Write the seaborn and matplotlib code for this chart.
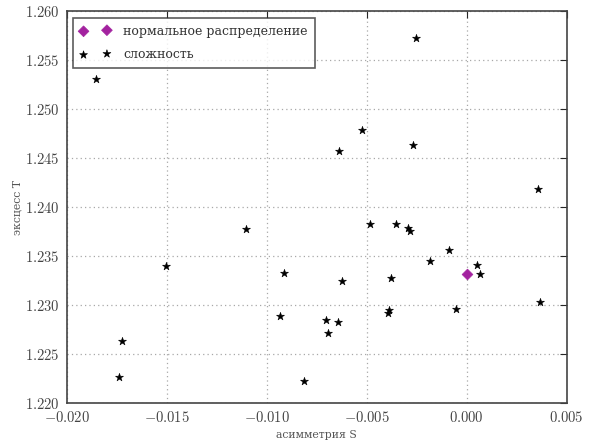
import matplotlib
matplotlib.use("Agg")
import matplotlib.pyplot as plt
import seaborn as sns
import pandas as pd

# data
skew = [-0.01855, -0.00255, -0.00525, -0.0064, -0.0027, 0.00357, -0.01105,
        -0.00482, -0.00353, -0.00292, -0.00282, -0.00088, -0.00183, 0.0005,
        0.00065, -0.01505, -0.00913, -0.00623, -0.00378, -0.01725, -0.0174,
        -0.00935, -0.00703, -0.00695, -0.00642, -0.00813, -0.0039, -0.00393,
        -0.00052, 0.00368]
kurt = [1.2531, 1.2573, 1.2479, 1.2457, 1.2464, 1.2419, 1.2378,
        1.2383, 1.2383, 1.2379, 1.2376, 1.2356, 1.2345, 1.2341,
        1.2332, 1.2340, 1.2333, 1.2325, 1.2328, 1.2263, 1.2227,
        1.2289, 1.2285, 1.2271, 1.2283, 1.2222, 1.2295, 1.2292,
        1.2296, 1.2303]
normal_skew = [0.0]
normal_kurt = [1.2332]
xticks = [-0.020, -0.015, -0.010, -0.005, 0.000, 0.005]
yticks = [1.220, 1.225, 1.230, 1.235, 1.240, 1.245, 1.250, 1.255, 1.260]

sns.set_style("white")
plt.rcParams['font.family'] = ['DejaVu Serif']
plt.rcParams['mathtext.fontset'] = 'cm'
plt.rcParams['axes.unicode_minus'] = True

fig = plt.figure(figsize=(5.89, 4.41), dpi=100)
ax = fig.add_axes([0.1132, 0.0862, 0.9621 - 0.1132, 0.974 - 0.0862])

df_n = pd.DataFrame({"x": normal_skew, "y": normal_kurt})
df_s = pd.DataFrame({"x": skew, "y": kurt})

sns.scatterplot(data=df_n, x="x", y="y", ax=ax, marker="D", color="#a3229f",
                s=30, edgecolor="#a3229f", linewidth=0.5,
                label="нормальное распределение", zorder=3)
sns.scatterplot(data=df_s, x="x", y="y", ax=ax, marker="*", color="black",
                s=36, edgecolor="black", linewidth=0.4,
                label="сложность", zorder=3)

ax.set_xlim(-0.020, 0.005)
ax.set_ylim(1.220, 1.260)
ax.set_xticks(xticks)
ax.set_yticks(yticks)
ax.set_xticklabels([f"${t:.3f}$" for t in xticks])
ax.set_yticklabels([f"${t:.3f}$" for t in yticks])
ax.grid(True, linestyle=(0, (1, 2.5)), color="#a8a8a8", linewidth=0.9)
ax.tick_params(direction="in", length=5, width=0.8, top=True, right=True,
               labelsize=10.5, labelcolor="#444444", pad=5)
for sp in ax.spines.values():
    sp.set_visible(True)
    sp.set_color("#444444")
    sp.set_linewidth(1.2)

ax.set_xlabel("асимметрия S", fontsize=7.8, color="#555555", labelpad=4)
ax.set_ylabel("эксцесс T", fontsize=7.8, color="#555555", labelpad=2)

leg = ax.legend(loc="upper left", scatterpoints=2, fancybox=False,
                frameon=True, fontsize=9, borderpad=0.55, labelspacing=0.85,
                handlelength=2.47, handletextpad=1.0, borderaxespad=0.5)
leg.get_frame().set_edgecolor("#333333")
leg.get_frame().set_linewidth(1.2)
for t in leg.get_texts():
    t.set_color("#333333")

fig.savefig("out.png", dpi=100)
